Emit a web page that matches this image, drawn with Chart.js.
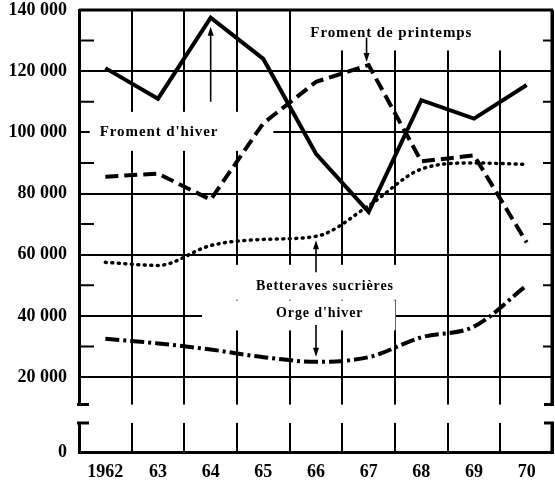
<!DOCTYPE html>
<html>
<head>
<meta charset="utf-8">
<script src="https://cdn.jsdelivr.net/npm/chart.js@4.4.1/dist/chart.umd.min.js"></script>
<style>
  html, body { margin: 0; padding: 0; background: #fff; }
  #wrap { width: 555px; height: 483px; }
</style>
</head>
<body>
<div id="wrap"><canvas id="chart" width="555" height="483"></canvas></div>
<script>
const years = ["1962", "63", "64", "65", "66", "67", "68", "69", "70"];
const fromentHiver = [121000, 111000, 137500, 124000, 93000, 74000, 110500, 104500, 115500];
const fromentPrintemps = [85500, 86500, 78000, 103000, 116500, 122000, 90500, 92500, 64000];
const betteraves = [57500, 56500, 63000, 65000, 66000, 76000, 88000, 90000, 89500];
const orgeHiver = [32500, 31000, 29000, 26500, 25000, 26500, 33000, 36500, 50000];

const yTicks = [20000, 40000, 60000, 80000, 100000, 120000, 140000];
const yMinorTicks = [30000, 50000, 70000, 90000, 110000, 130000];
const yBottom = -4500;        // axis is broken: the "0" sits on the bottom line
const yBreak = [11000, 5000]; // gap in the axis

const serif = "'Liberation Serif', 'DejaVu Serif', serif";

// labels drawn on the plot, with a white patch behind them like the paper
const notes = [
  { text: "Froment d'hiver", at: 1.02, value: 100000, size: 15, pad: [10, 13, 55, 11] },
  { text: "Froment de printemps", at: 5.43, value: 132500, size: 15, pad: [12, 20, 45, 10] },
  { text: "Betteraves sucrières", at: 4.17, value: 49500, size: 14, pad: [24, 15, 6, 6] },
  { text: "Orge d'hiver", at: 4.07, value: 40800, size: 14, pad: [74, 6, 32, 10] }
];
const arrows = [
  { at: 2, series: fromentHiver, from: 110000, gap: 9 },
  { at: 4.96, series: fromentPrintemps, from: 131000, gap: -3 },
  { at: 4, series: betteraves, from: 54300, gap: 4 },
  { at: 4, series: orgeHiver, from: 37000, gap: -5 }
];

function fmt(v) {
  if (v === yBottom) return "0";
  return String(v).replace(/\B(?=(\d{3})+(?!\d))/g, " ");
}

const paperMarks = {
  id: "paperMarks",
  beforeDatasetsDraw(chart) {
    const { ctx, chartArea: a, scales: { x, y } } = chart;
    const px = i => x.left + (i + 0.5) * (x.width / years.length);
    ctx.save();
    ctx.fillStyle = "#fff";

    // axis break band
    const b0 = y.getPixelForValue(yBreak[0]);
    const b1 = y.getPixelForValue(yBreak[1]);
    ctx.fillRect(a.left - 3, b0, a.width + 6, b1 - b0);

    // text patches
    for (const n of notes) {
      ctx.font = "bold " + n.size + "px " + serif;
      ctx.letterSpacing = "0.9px";
      const w = ctx.measureText(n.text).width;
      const cx = px(n.at), cy = y.getPixelForValue(n.value);
      ctx.fillRect(cx - w / 2 - n.pad[0], cy - n.size / 2 - n.pad[1],
        w + n.pad[0] + n.pad[2], n.size + n.pad[1] + n.pad[3]);
    }

    ctx.strokeStyle = "#000";
    ctx.lineCap = "butt";

    // frame: top and right
    ctx.lineWidth = 3;
    ctx.beginPath();
    ctx.moveTo(a.left, a.top); ctx.lineTo(a.right, a.top);
    ctx.moveTo(a.right - 1, a.top); ctx.lineTo(a.right - 1, b0);
    ctx.moveTo(a.right - 1, b1); ctx.lineTo(a.right - 1, a.bottom);
    ctx.stroke();

    // break serifs
    ctx.beginPath();
    ctx.moveTo(a.left - 2, b0); ctx.lineTo(a.left + 10, b0);
    ctx.moveTo(a.left - 2, b1); ctx.lineTo(a.left + 10, b1);
    ctx.moveTo(a.right - 9, b0); ctx.lineTo(a.right + 1, b0);
    ctx.moveTo(a.right - 9, b1); ctx.lineTo(a.right + 1, b1);
    ctx.stroke();

    // minor ticks
    ctx.lineWidth = 2;
    ctx.beginPath();
    for (const v of yMinorTicks) {
      const yy = y.getPixelForValue(v);
      ctx.moveTo(a.left, yy); ctx.lineTo(a.left + 15, yy);
      ctx.moveTo(a.right - 10, yy); ctx.lineTo(a.right, yy);
    }
    ctx.stroke();

    // labels
    ctx.fillStyle = "#000";
    ctx.textAlign = "center";
    ctx.textBaseline = "middle";
    for (const n of notes) {
      ctx.font = "bold " + n.size + "px " + serif;
      ctx.letterSpacing = "0.9px";
      ctx.fillText(n.text, px(n.at), y.getPixelForValue(n.value));
    }
    ctx.letterSpacing = "0px";

    // arrows pointing at the curves
    ctx.lineWidth = 1.6;
    for (const r of arrows) {
      const xx = px(r.at);
      const y0 = y.getPixelForValue(r.from);
      const yp = y.getPixelForValue(r.series[Math.round(r.at)]) + r.gap;
      const dir = yp < y0 ? -1 : 1;
      ctx.beginPath();
      ctx.moveTo(xx, y0); ctx.lineTo(xx, yp - dir * 6);
      ctx.stroke();
      ctx.beginPath();
      ctx.moveTo(xx, yp);
      ctx.lineTo(xx - 3, yp - dir * 9);
      ctx.lineTo(xx + 3, yp - dir * 9);
      ctx.closePath();
      ctx.fill();
    }
    ctx.restore();
  }
};

new Chart(document.getElementById("chart"), {
  type: "line",
  data: {
    labels: years,
    datasets: [
      {
        label: "Froment d'hiver",
        data: fromentHiver,
        borderColor: "#000",
        borderWidth: 4,
        borderJoinStyle: "miter",
        pointRadius: 0,
        tension: 0
      },
      {
        label: "Froment de printemps",
        data: fromentPrintemps,
        borderColor: "#000",
        borderWidth: 4,
        borderDash: [13, 6],
        pointRadius: 0,
        tension: 0
      },
      {
        label: "Betteraves sucrières",
        data: betteraves,
        borderColor: "#000",
        borderWidth: 3.5,
        borderDash: [1, 5.5],
        borderCapStyle: "round",
        pointRadius: 0,
        cubicInterpolationMode: "monotone"
      },
      {
        label: "Orge d'hiver",
        data: orgeHiver,
        borderColor: "#000",
        borderWidth: 4,
        borderDash: [14, 4, 3, 4],
        pointRadius: 0,
        cubicInterpolationMode: "monotone"
      }
    ]
  },
  options: {
    responsive: false,
    animation: false,
    layout: { padding: { top: 10, right: 2, left: 0, bottom: 0 } },
    plugins: { legend: { display: false }, tooltip: { enabled: false } },
    scales: {
      x: {
        offset: true,
        grid: { offset: true, color: "#000", lineWidth: 2, drawTicks: false },
        border: { color: "#000", width: 3 },
        ticks: { color: "#000", padding: 10, font: { family: serif, size: 18, weight: "bold" } },
        afterFit(scale) {
          scale.height = 31;
          scale.paddingLeft = 0;
          scale.paddingRight = 0;
        }
      },
      y: {
        min: yBottom,
        max: 140000,
        afterBuildTicks(scale) {
          scale.ticks = [yBottom, ...yTicks].map(v => ({ value: v }));
        },
        grid: {
          color: c => (c.tick && c.tick.value === yBottom ? "rgba(0,0,0,0)" : "#000"),
          lineWidth: 2,
          drawTicks: false
        },
        border: { color: "#000", width: 3 },
        ticks: {
          color: "#000",
          padding: 12,
          font: { family: serif, size: 18, weight: "bold" },
          callback: v => fmt(v)
        },
        afterFit(scale) {
          scale.width = 79;
          scale.paddingTop = 0;
          scale.paddingBottom = 0;
        }
      }
    }
  },
  plugins: [paperMarks]
});
</script>
</body>
</html>
